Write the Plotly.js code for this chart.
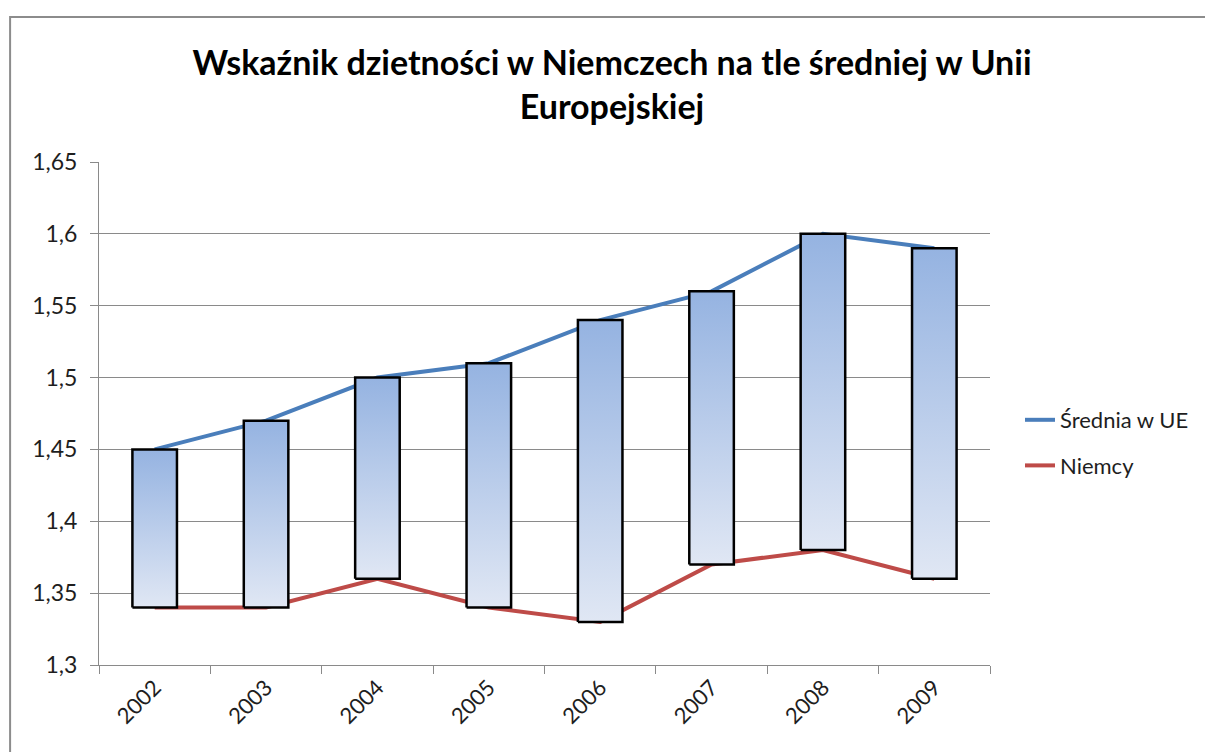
<!DOCTYPE html>
<html>
<head>
<meta charset="utf-8">
<script src="https://cdn.plot.ly/plotly-3.0.1.min.js"></script>
<style>
  html, body { margin: 0; padding: 0; background: #fff; overflow: hidden; }
  #chart { width: 1205px; height: 752px; }
</style>
</head>
<body>
<div id="chart"></div>
<script>
// ---- data ----
const years = ["2002", "2003", "2004", "2005", "2006", "2007", "2008", "2009"];
const sredniaUE = [1.45, 1.47, 1.50, 1.51, 1.54, 1.56, 1.60, 1.59];
const niemcy = [1.34, 1.34, 1.36, 1.34, 1.33, 1.37, 1.38, 1.36];
const yTickVals = [1.3, 1.35, 1.4, 1.45, 1.5, 1.55, 1.6, 1.65];
const yTickText = ["1,3", "1,35", "1,4", "1,45", "1,5", "1,55", "1,6", "1,65"];
const titleText = "Wskaźnik dzietności w Niemczech na tle średniej w Unii<br>Europejskiej";

const FONT = "Lato, 'Open Sans', sans-serif";
const TXT = "#1e1e1e";
const GRID = "#8a8a8a";
const BARHALF = 0.2;

const traces = [];
traces.push({
  type: "scatter", mode: "lines", name: "Średnia w UE",
  x: years, y: sredniaUE, xaxis: "x", yaxis: "y",
  line: { color: "#4a7ebb", width: 4 }, legendgroup: "a"
});
traces.push({
  type: "scatter", mode: "lines", name: "Niemcy",
  x: years, y: niemcy, xaxis: "x", yaxis: "y",
  line: { color: "#be4b48", width: 4 }, legendgroup: "b"
});

// up-down bars between the two series, gradient filled
years.forEach((yr, i) => {
  const lo = Math.min(sredniaUE[i], niemcy[i]);
  const hi = Math.max(sredniaUE[i], niemcy[i]);
  traces.push({
    type: "scatter", mode: "lines", showlegend: false, hoverinfo: "skip",
    xaxis: "x2", yaxis: "y",
    x: [i - BARHALF, i + BARHALF, i + BARHALF, i - BARHALF, i - BARHALF],
    y: [lo, lo, hi, hi, lo],
    fill: "toself",
    fillgradient: {
      type: "vertical", start: lo, stop: hi,
      colorscale: [[0, "#e0e7f4"], [1, "#95b3e1"]]
    },
    line: { color: "#000", width: 2.5 }
  });
});

const L = 99, R = 991, T = 162, B = 665;
const pw = R - L, ph = B - T;

const layout = {
  width: 1205, height: 752,
  margin: { l: L, r: 1205 - R, t: T, b: 752 - B, pad: 0 },
  paper_bgcolor: "#fff", plot_bgcolor: "#fff",
  font: { family: FONT, color: TXT, size: 22 },
  separators: ", ",
  title: {
    text: titleText,
    font: { family: FONT, size: 34, color: "#000", weight: "bold" },
    x: 612 / 1205, xanchor: "center", xref: "container",
    y: 1 - 75 / 752, yanchor: "top", yref: "container"
  },
  showlegend: true,
  legend: {
    x: (1020 - L) / pw, xanchor: "left",
    y: (B - 443) / ph, yanchor: "middle",
    font: { family: FONT, size: 22, color: TXT },
    traceorder: "grouped", tracegroupgap: 14,
    bgcolor: "rgba(0,0,0,0)"
  },
  xaxis: {
    type: "category", range: [-0.5, years.length - 0.5],
    tickson: "boundaries", ticks: "outside", ticklen: 8, tickcolor: GRID,
    tickangle: -45, showgrid: false, showline: true, linecolor: GRID, linewidth: 1,
    tickfont: { family: FONT, size: 22, color: TXT }, fixedrange: true
  },
  xaxis2: {
    overlaying: "x", range: [-0.5, years.length - 0.5], visible: false,
    showgrid: false, zeroline: false, fixedrange: true
  },
  yaxis: {
    range: [1.3, 1.65], tickvals: yTickVals, ticktext: yTickText,
    ticks: "outside", ticklen: 8, tickcolor: GRID,
    showgrid: true, gridcolor: GRID, gridwidth: 1,
    showline: true, linecolor: GRID, linewidth: 1, zeroline: false,
    tickfont: { family: FONT, size: 23, color: TXT }, ticklabelstandoff: 8,
    fixedrange: true
  },
  shapes: [{
    type: "rect", xref: "paper", yref: "paper", layer: "below",
    x0: (10 - L) / pw, x1: 1.35, y0: -0.35, y1: (B - 17) / ph,
    line: { color: "#8c8c8c", width: 2 }, fillcolor: "rgba(0,0,0,0)"
  }]
};

Plotly.newPlot("chart", traces, layout, { displayModeBar: false, staticPlot: true });
</script>
</body>
</html>
